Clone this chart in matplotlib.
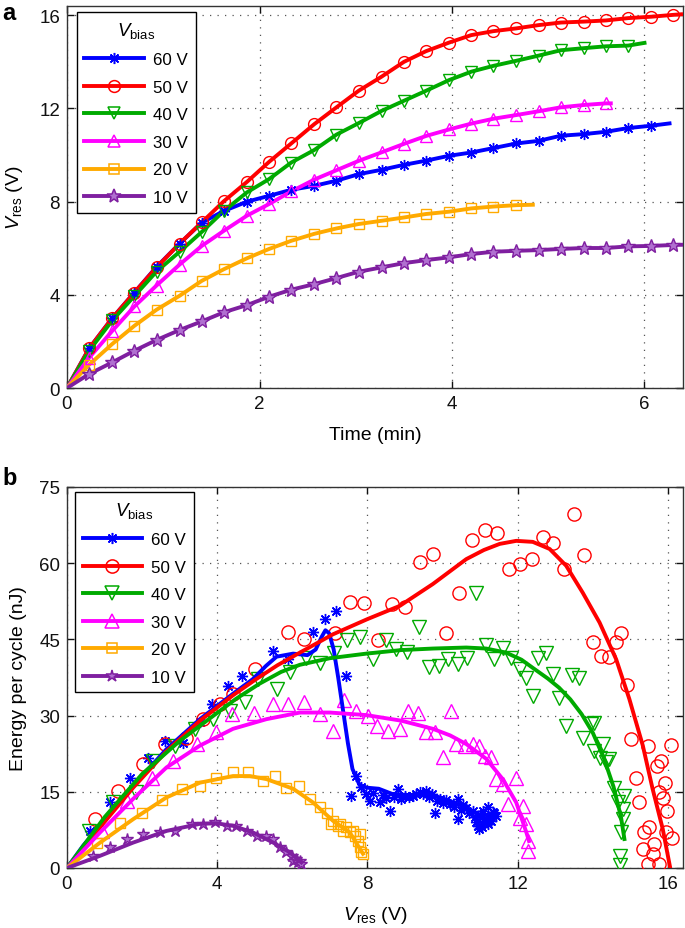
import matplotlib
matplotlib.use('Agg')
import matplotlib.pyplot as plt
from matplotlib.lines import Line2D

plt.rcParams['font.family'] = ['Liberation Sans', 'DejaVu Sans']
plt.rcParams['mathtext.fontset'] = 'custom'
plt.rcParams['mathtext.rm'] = 'Liberation Sans'
plt.rcParams['mathtext.it'] = 'Liberation Sans:italic'

# ---------------- data: panel a ----------------
labels = ['60 V', '50 V', '40 V', '30 V', '20 V', '10 V']
t_min = [0.23, 0.47, 0.70, 0.93, 1.17, 1.40, 1.63, 1.87, 2.10, 2.33, 2.57, 2.80, 3.03, 3.27,
         3.50, 3.73, 3.97, 4.20, 4.43, 4.67, 4.90, 5.13, 5.37, 5.60, 5.83, 6.07, 6.30]
va_60 = [1.7, 3.0, 4.1, 5.2, 6.2, 7.1, 7.6, 8.0, 8.25, 8.51, 8.68, 8.9, 9.18, 9.37, 9.58, 9.76,
         9.97, 10.11, 10.3, 10.5, 10.61, 10.83, 10.9, 11.0, 11.16, 11.26]
va_50 = [1.7, 3.0, 4.1, 5.18, 6.2, 7.11, 8.02, 8.85, 9.71, 10.5, 11.33, 12.05, 12.76, 13.37, 14.0,
         14.46, 14.83, 15.15, 15.32, 15.44, 15.58, 15.69, 15.73, 15.78, 15.88, 15.94, 16.02]
va_40 = [1.6, 2.9, 3.95, 5.0, 5.85, 6.7, 7.6, 8.4, 8.97, 9.68, 10.22, 10.88, 11.37, 11.9, 12.33,
         12.76, 13.22, 13.58, 13.83, 14.05, 14.27, 14.5, 14.59, 14.67, 14.7]
va_30 = [1.3, 2.45, 3.5, 4.4, 5.3, 6.1, 6.75, 7.4, 7.9, 8.44, 8.95, 9.35, 9.75, 10.12, 10.48,
         10.82, 11.1, 11.35, 11.56, 11.72, 11.88, 12.05, 12.15, 12.22]
va_20 = [1.0, 1.89, 2.67, 3.36, 3.96, 4.6, 5.1, 5.57, 5.97, 6.32, 6.62, 6.85, 7.04, 7.18, 7.32,
         7.47, 7.57, 7.71, 7.79, 7.85]
va_10 = [0.6, 1.1, 1.6, 2.06, 2.49, 2.86, 3.25, 3.56, 3.92, 4.22, 4.46, 4.72, 4.99, 5.18, 5.36,
         5.49, 5.61, 5.75, 5.85, 5.89, 5.92, 5.97, 6.01, 6.01, 6.08, 6.1, 6.14]
# end points of the fitted curves (time, V)
end_t = [6.28, 6.40, 6.02, 5.67, 4.86, 6.40]
end_v = [11.37, 16.05, 14.83, 12.22, 7.87, 6.15]

# ---------------- data: panel b (scatter) ----------------
b60_x = [0.61, 1.14, 1.68, 2.16, 2.61, 3.09, 3.54, 3.85, 4.29, 4.65, 5.49, 5.89, 6.55, 6.86, 7.17, 7.44,
         7.57, 7.70, 7.84, 7.95, 8.06, 8.15, 8.32, 8.40, 8.50, 8.59, 8.70, 8.81, 8.90, 9.00, 9.10, 9.21,
         9.30, 9.39, 9.48, 9.55, 9.65, 9.72, 9.79, 9.85, 9.92, 10.0, 10.1, 10.19, 10.3, 10.41, 10.41,
         10.5, 10.55, 10.63, 10.7, 10.8, 10.85, 10.89, 10.95, 10.98, 11.0, 11.07, 11.1, 11.16, 11.2,
         11.25, 11.3, 11.35, 11.38, 11.43, 11.2, 11.05, 11.3]
b60_y = [7.3, 12.9, 17.8, 21.6, 25.0, 24.7, 28.7, 32.3, 35.9, 37.8, 42.8, 41.1, 46.4, 49.0, 50.6, 37.8,
         14.2, 18.1, 15.9, 14.6, 13.2, 14.8, 12.9, 14.3, 13.8, 11.3, 14.0, 15.5, 13.6, 14.2, 13.9, 14.2,
         14.6, 14.9, 14.6, 15.2, 13.9, 14.5, 10.9, 13.2, 13.6, 12.8, 13.3, 12.6, 12.0, 13.6, 9.6,
         11.5, 12.4, 11.9, 10.8, 11.3, 10.0, 9.0, 8.3, 7.7, 10.5, 11.3, 9.3, 9.6, 12.0,
         10.0, 10.3, 11.0, 10.9, 10.3, 8.6, 8.0, 9.2]
b50_x = [0.74, 1.37, 2.03, 2.6, 3.18, 3.63, 4.07, 4.42, 5.0, 5.89, 6.3, 7.13, 7.53, 7.9, 8.28, 8.65,
         9.0, 9.39, 9.74, 10.1, 10.43, 10.78, 11.13, 11.45, 11.76, 12.07, 12.38, 12.67, 12.95, 13.23,
         13.49, 13.76, 14.0, 14.22, 14.44, 14.62, 14.75, 14.9, 15.02, 15.46, 16.08, 15.15, 15.82, 15.7,
         15.93, 15.77, 15.86, 15.24, 15.97, 15.5, 15.37, 15.95, 16.11, 15.64, 15.33, 15.59, 15.46, 15.77]
b50_y = [9.6, 15.2, 20.5, 24.4, 25.5, 29.3, 32.3, 34.2, 39.2, 46.4, 45.1, 46.2, 52.3, 52.2, 44.9, 52.0,
         51.3, 60.3, 61.9, 46.2, 54.1, 64.6, 66.5, 66.0, 58.9, 59.8, 60.8, 65.1, 64.0, 58.9,
         69.7, 61.6, 44.5, 41.8, 41.6, 44.4, 46.3, 36.1, 25.4, 24.1, 24.2, 17.8, 21.1, 20.1,
         16.7, 14.9, 13.7, 12.9, 11.3, 8.0, 7.0, 7.0, 6.0, 4.7, 3.7, 2.8, 0.8, 0.8]
b40_x = [0.59, 1.23, 1.85, 2.3, 2.87, 3.4, 3.89, 4.34, 4.73, 5.09, 5.58, 5.93, 6.35, 6.74, 7.1, 7.46,
         7.81, 8.15, 8.48, 8.77, 9.05, 9.37, 9.64, 9.9, 10.14, 10.41, 10.65, 10.9, 11.16, 11.38, 11.62,
         11.83, 12.05, 12.23, 12.4, 12.53, 12.74, 12.93, 13.11, 13.45, 13.64, 13.29, 13.73, 13.95,
         14.04, 14.26, 14.04, 14.18, 14.44, 14.35, 14.57, 14.84, 14.66, 14.8, 14.8, 14.75, 14.71, 14.71]
b40_y = [7.3, 12.9, 14.9, 21.1, 24.1, 27.4, 29.3, 30.9, 32.6, 37.2, 35.2, 38.5, 41.4, 40.4, 42.4, 44.9,
         45.4, 41.1, 44.8, 43.1, 42.6, 47.4, 39.5, 39.8, 41.1, 40.2, 41.3, 54.2, 43.9, 41.1, 43.4,
         41.4, 39.2, 37.5, 33.9, 41.3, 42.4, 38.2, 33.5, 38.0, 37.4, 28.0, 25.6, 28.3,
         28.6, 24.4, 23.1, 21.6, 21.5, 20.8, 15.8, 14.2, 12.9, 11.6, 9.6, 7.0, 2.4, 0.5]
b30_x = [0.92, 1.59, 2.25, 2.83, 3.45, 3.98, 4.4, 4.97, 5.49, 5.89, 6.3, 6.73, 7.08, 7.37, 7.7, 8.01,
         8.24, 8.55, 8.86, 9.08, 9.34, 9.57, 9.79, 10.01, 10.23, 10.36, 10.59, 10.8, 10.98, 11.12, 11.3,
         11.43, 11.6, 11.74, 11.96, 12.05, 12.14, 12.23, 12.27, 12.27]
b30_y = [7.3, 13.2, 17.8, 21.1, 24.4, 26.7, 30.3, 30.6, 32.3, 32.3, 32.6, 30.3, 27.0, 33.0, 31.0, 30.0,
         28.0, 27.0, 27.3, 31.0, 30.6, 26.7, 26.7, 21.8, 31.0, 24.4, 24.1, 24.4, 24.1, 22.1, 21.8,
         17.5, 16.5, 12.6, 17.8, 9.9, 12.2, 8.7, 5.4, 3.4]
b20_x = [0.79, 1.41, 2.01, 2.54, 3.05, 3.54, 3.98, 4.42, 4.82, 5.22, 5.53, 5.84, 6.17, 6.46, 6.73, 6.91,
         7.04, 7.08, 7.22, 7.26, 7.35, 7.44, 7.53, 7.61, 7.66, 7.75, 7.79, 7.79, 7.84, 7.88]
b20_y = [5.0, 8.9, 10.8, 13.4, 15.6, 16.1, 17.8, 18.9, 18.8, 17.2, 18.1, 15.8, 16.2, 13.6, 12.0, 10.9,
         8.7, 9.3, 8.3, 8.7, 7.3, 8.0, 7.0, 7.3, 6.3, 5.4, 6.7, 4.1, 3.1, 2.8]
b10_x = [0.7, 1.14, 1.59, 2.03, 2.47, 2.87, 3.32, 3.63, 3.94, 4.25, 4.51, 4.78, 5.05, 5.31, 5.49, 5.66,
         5.84, 5.98, 6.02, 6.11, 6.15, 6.2, 6.24]
b10_y = [2.4, 4.1, 5.7, 6.7, 7.0, 7.3, 8.7, 8.7, 9.0, 8.3, 8.3, 7.3, 6.3, 6.3, 5.7, 4.1,
         3.1, 2.4, 1.4, 1.8, 1.1, 1.4, 0.8]

# ---------------- data: panel b (fitted curves) ----------------
f60_x = [0, 0.43, 0.88, 1.76, 2.65, 3.54, 4.42, 4.95, 5.3, 5.58, 6.02, 6.4, 6.62, 6.78, 6.88, 6.98,
         7.1, 7.22, 7.35, 7.48, 7.6, 7.79, 8.0, 8.3, 8.65, 9.2, 9.6, 10.0, 10.5, 10.98, 11.3]
f60_y = [0, 4.4, 8.3, 16.2, 23.4, 29.3, 34.3, 37.2, 39.8, 41.6, 42.2, 41.9, 43.0, 45.5, 46.8, 46.2,
         43.0, 37.5, 31.0, 24.5, 19.5, 16.3, 15.8, 15.6, 14.6, 14.3, 14.7, 13.7, 12.3, 10.5, 10.4]
f50_x = [0, 0.88, 1.76, 2.65, 3.54, 4.42, 5.0, 5.6, 6.2, 7.08, 8.0, 8.86, 9.74, 10.63, 11.1, 11.52,
         11.96, 12.4, 12.85, 13.29, 13.73, 14.18, 14.62, 14.97, 15.33, 15.59, 15.86, 16.06]
f50_y = [0, 8.0, 15.8, 23.0, 29.0, 34.0, 37.0, 39.9, 42.4, 46.0, 49.0, 51.6, 55.9, 60.8, 62.6, 63.8,
         64.4, 64.2, 62.8, 59.5, 54.2, 48.3, 41.1, 33.3, 24.1, 15.6, 7.7, 0.0]
f40_x = [0, 0.5, 1.0, 2.0, 3.0, 3.54, 4.5, 5.13, 5.7, 6.2, 7.0, 7.97, 8.9, 9.74, 10.63, 11.16, 11.69,
         12.1, 12.4, 12.8, 13.1, 13.4, 13.7, 14.0, 14.3, 14.55, 14.75, 14.84]
f40_y = [0, 5.0, 10.0, 18.5, 25.0, 28.0, 33.3, 36.3, 38.6, 40.0, 41.3, 42.2, 42.9, 43.2, 43.4, 43.2,
         42.4, 41.0, 39.4, 37.3, 35.5, 33.2, 30.3, 26.6, 21.5, 16.0, 10.0, 5.7]
f30_x = [0, 0.88, 1.76, 2.65, 3.54, 4.42, 5.31, 6.2, 7.0, 7.97, 8.9, 9.74, 10.2, 10.63, 11.16, 11.6,
         11.96, 12.23, 12.3]
f30_y = [0, 7.0, 13.6, 19.8, 24.1, 27.4, 29.3, 30.6, 30.6, 30.1, 29.0, 27.4, 26.1, 24.4, 21.5, 17.5,
         12.9, 7.0, 5.3]
f20_x = [0, 0.88, 1.76, 2.65, 3.54, 4.42, 4.87, 5.31, 6.02, 6.55, 7.08, 7.53, 7.88]
f20_y = [0, 5.0, 9.6, 13.9, 16.8, 18.1, 18.1, 17.5, 15.6, 12.9, 9.3, 7.0, 2.8]
f10_x = [0, 0.88, 1.76, 2.65, 3.54, 3.98, 4.42, 4.95, 5.49, 5.93, 6.24]
f10_y = [0, 2.4, 5.0, 7.3, 8.7, 8.8, 8.3, 7.0, 5.0, 3.1, 1.1]

# ---------------- styles ----------------
colors = ['#0000FF', '#FF0000', '#00AA00', '#FF00FF', '#FFAA00', '#7F1FA0']
markers = [(8, 2, 0), 'o', 'v', '^', 's', '*']
msz_a = [8, 8.5, 8.5, 8.5, 7, 10]
msz_b = [8, 9.5, 9.5, 9.5, 7.5, 9]

va_all = [va_60, va_50, va_40, va_30, va_20, va_10]
bx_all = [b60_x, b50_x, b40_x, b30_x, b20_x, b10_x]
by_all = [b60_y, b50_y, b40_y, b30_y, b20_y, b10_y]
fx_all = [f60_x, f50_x, f40_x, f30_x, f20_x, f10_x]
fy_all = [f60_y, f50_y, f40_y, f30_y, f20_y, f10_y]

fig = plt.figure(figsize=(6.85, 9.29), dpi=100)
axa = fig.add_axes([67/685, 1-389/929, 616/685, 382/929])
axb = fig.add_axes([67/685, 1-869/929, 616/685, 381/929])


def mfc_for(i):
    return '#B070D0' if i == 5 else 'none'


def style_axes(ax):
    ax.grid(True, linestyle=(0, (1, 5)), color='#555555', linewidth=0.9)
    ax.set_axisbelow(True)
    ax.tick_params(direction='in', top=True, right=True, length=5, width=1,
                   labelsize=13.5, pad=5, colors='#111111')
    for s in ax.spines.values():
        s.set_linewidth(1.0)
        s.set_color('#333333')


def make_legend(ax, anchor, msz):
    handles = []
    for i in range(6):
        handles.append(Line2D([], [], color=colors[i], lw=2.8, marker=markers[i], markersize=msz[i],
                              mfc=mfc_for(i), mec=colors[i], mew=1.1))
    leg = ax.legend(handles, labels, loc='upper left', bbox_to_anchor=anchor, borderaxespad=0,
                    title='$V_{\\mathrm{bias}}$', title_fontsize=13.5, fontsize=12.2, handlelength=3.5,
                    handletextpad=0.55, labelspacing=0.74, borderpad=0.45, fancybox=False,
                    edgecolor='black', framealpha=1, numpoints=1)
    leg.get_frame().set_linewidth(1.0)
    leg.set_zorder(10)
    return leg


# ---------------- panel a ----------------
for i in range(6):
    n = len(va_all[i])
    tt = t_min[:n]
    lx = [0] + tt + [end_t[i]]
    ly = [0] + va_all[i] + [end_v[i]]
    axa.plot(lx, ly, color=colors[i], lw=2.8, zorder=3, solid_capstyle='butt')
    axa.plot(tt, va_all[i], ls='none', marker=markers[i], markersize=msz_a[i],
             mfc=mfc_for(i), mec=colors[i], mew=1.0, zorder=4)

axa.set_xlim(0, 6.4)
axa.set_ylim(0, 16.4)
axa.set_xticks([0, 2, 4, 6])
axa.set_yticks([0, 4, 8, 12, 16])
style_axes(axa)
axa.set_xlabel('Time (min)', fontsize=14, labelpad=10)
axa.set_ylabel('$V_{\\mathrm{res}}$ (V)', fontsize=14, labelpad=10)
make_legend(axa, (0.016, 0.984), msz_a)

# ---------------- panel b ----------------
for i in range(6):
    axb.plot(bx_all[i], by_all[i], ls='none', marker=markers[i], markersize=msz_b[i],
             mfc=mfc_for(i), mec=colors[i], mew=1.0, zorder=3)
for i in range(6):
    axb.plot(fx_all[i], fy_all[i], color=colors[i], lw=2.8, zorder=4)

axb.set_xlim(0, 16.4)
axb.set_ylim(0, 75)
axb.set_xticks([0, 4, 8, 12, 16])
axb.set_yticks([0, 15, 30, 45, 60, 75])
style_axes(axb)
axb.set_xlabel('$V_{\\mathrm{res}}$ (V)', fontsize=14, labelpad=9)
axb.set_ylabel('Energy per cycle (nJ)', fontsize=14, labelpad=9)
make_legend(axb, (0.013, 0.987), msz_b)

fig.text(0.004, 0.998, 'a', fontsize=17, fontweight='bold', va='top', ha='left')
fig.text(0.004, 0.497, 'b', fontsize=17, fontweight='bold', va='top', ha='left')

fig.savefig('out.png', dpi=100)
